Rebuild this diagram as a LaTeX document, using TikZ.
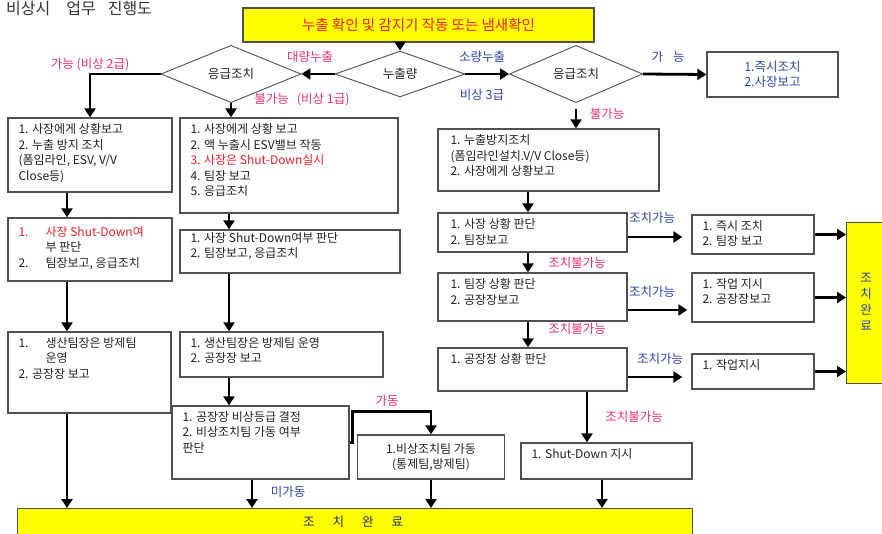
\documentclass[tikz,border=0pt]{standalone}
\usepackage{fontspec}
\setmainfont{Noto Sans CJK KR}
\usetikzlibrary{arrows.meta,shapes.geometric}
\definecolor{kyellow}{HTML}{FFFF00}
\definecolor{kred}{HTML}{E8202A}
\definecolor{kpink}{HTML}{E8336E}
\definecolor{kblue}{HTML}{2B47A6}
\definecolor{kline}{HTML}{505050}
\definecolor{ktext}{HTML}{222222}
\definecolor{ktitle}{HTML}{333333}
\newcommand\fs[2]{\fontsize{#1}{#2}\selectfont}
\newcommand\kbox[7][]{%
  \node[bx,minimum width={(#5-#3)*1pt},minimum height={(#6-#4)*1pt}] (#2) at ({(#3+#5)/2},{(#4+#6)/2}) {};
  \node[txt,anchor=north west,#1] (#2t) at ([shift={(11,6)}]#2.north west) {#7};
}
\begin{document}
\begin{tikzpicture}[x=1pt,y=-1pt,
  bx/.style={draw=kline,line width=1.3pt,fill=white,inner sep=0pt},
  txt/.style={inner sep=0pt,align=left,font=\fs{12}{15.5},text=ktext},
  arr/.style={line width=2.8pt,-{Triangle[length=9pt,width=11pt]}},
  dia/.style={diamond,draw=kline,line width=0.9pt,inner sep=0pt,font=\fs{12.5}{14},text=ktext},
  lbl/.style={inner sep=0pt,font=\fs{12.5}{14}},
  ybox/.style={draw=kline,line width=1.3pt,fill=kyellow,inner sep=0pt}]
\useasboundingbox (0,0) rectangle (882,534);
\fill[white] (0,0) rectangle (882,534);
\clip (0,0) rectangle (882,534);

\coordinate (xL) at (67,0);
\coordinate (xM) at (229,0);
\coordinate (xM4) at (252,0);
\coordinate (xR) at (528,0);
\coordinate (xR4) at (587,0);
\coordinate (xR5) at (602,0);

% title
\node[anchor=base west,inner sep=0pt,font=\fs{16}{18},text=ktitle] (title) at (6,15) {비상시\hspace{16pt}업무\hspace{12pt}진행도};

% top box
\node[ybox,minimum width=351pt,minimum height=34pt,text=kred,font=\fs{14.5}{16}] (top) at (418.5,25) {누출 확인 및 감지기 작동 또는 냄새확인};

% diamonds
\node[dia,minimum width=130pt,minimum height=44pt] (mid) at (400,74) {누출량};
\node[dia,minimum width=140pt,minimum height=48pt] (ld) at (231,74) {응급조치};
\node[dia,minimum width=133pt,minimum height=48pt] (rd) at (576,74) {응급조치};
\node[bx,minimum width=131pt,minimum height=45pt,text=kblue,align=center,font=\fs{12.5}{15.5}] (B0) at (772.5,74.5) {1.즉시조치\\2.사장보고};

% left column
\kbox{L1}{8}{118}{172}{192}{1. 사장에게 상황보고\\2. 누출 방지 조치\\(폼임라인, ESV, V/V\\Close등)}
\kbox[yshift=-3pt]{L2}{8}{218}{172}{281}{\textcolor{kred}{\makebox[27pt][l]{1.}사장 Shut-Down여}\\\hspace*{27pt}부 판단\\\makebox[27pt][l]{2.}팀장보고, 응급조치}
\kbox{L3}{8}{332}{171}{413}{\makebox[27pt][l]{1.}생산팀장은 방제팀\\\hspace*{27pt}운영\\2. 공장장 보고}

% middle column
\kbox{M1}{180}{118}{398}{213}{1. 사장에게 상황 보고\\2. 액 누출시 ESV밸브 작동\\\textcolor{kred}{3. 사장은 Shut-Down실시}\\4. 팀장 보고\\5. 응급조치}
\kbox[yshift=3pt]{M2}{180}{230}{400}{273}{1. 사장 Shut-Down여부 판단\\2. 팀장보고, 응급조치}
\kbox{M3}{180}{332}{383}{377}{1. 생산팀장은 방제팀 운영\\2. 공장장 보고}
\kbox{M4}{172}{406}{349}{479}{1. 공장장 비상등급 결정\\2. 비상조치팀 가동 여부\\판단}
\node[bx,minimum width=147pt,minimum height=44pt,align=center,font=\fs{12}{15.5},text=ktext] (M5) at (431,457) {1.비상조치팀 가동\\(통제팀,방제팀)};

% right column
\kbox[xshift=2pt]{R1}{438}{129}{659}{191}{1. 누출방지조치\\(폼임라인설치.V/V Close등)\\2. 사장에게 상황보고}
\kbox[xshift=2pt]{R2}{438}{213}{627}{252}{1. 사장 상황 판단\\2. 팀장보고}
\kbox[xshift=2pt]{R3}{438}{273}{627}{321}{1. 팀장 상황 판단\\2. 공장장보고}
\kbox[xshift=2pt]{R4}{438}{348}{627}{391}{1. 공장장 상황 판단}
\kbox{R5}{521}{443}{692}{479}{1. Shut-Down 지시}

\kbox{S1}{692}{215}{814}{254}{1. 즉시 조치\\2. 팀장 보고}
\kbox{S2}{692}{273}{814}{322}{1. 작업 지시\\2. 공장장보고}
\kbox{S3}{692}{354}{814}{389}{1. 작업지시}

% completion boxes
\node[ybox,minimum width=60pt,minimum height=161pt,anchor=north west] (fin) at (846,222) {};
\node[inner sep=0pt,align=center,font=\fs{12.5}{16},text=kblue] (finT) at (866,302) {조\\치\\완\\료};
\node[ybox,minimum width=675pt,minimum height=45pt,anchor=north west] (bot) at (17,508) {};
\node[inner sep=0pt,font=\fs{12.5}{14},text=kblue!70!black] (botT) at (353,522) {조\hspace{18pt}치\hspace{18pt}완\hspace{18pt}료};

% connectors (top)
\draw[arr] (top.south -| mid.north) -- (mid.north);
\draw[arr] (mid.west) -- (ld.east);
\draw[arr] (mid.east) -- (rd.west);
\draw[arr] (rd.east) -- (B0.west);
\draw[arr] (ld.west) -| (L1.north);
\draw[arr] (ld.south) -- (ld.south |- M1.north);
\draw[arr,shorten <=6pt] (rd.south) -- (rd.south |- R1.north);

% left column
\draw[arr] (L1.south -| xL) -- (L2.north -| xL);
\draw[arr] (L2.south -| xL) -- (L3.north -| xL);
\draw[arr] (L3.south -| xL) -- (bot.north -| xL);

% middle column
\draw[arr] (M1.south -| xM) -- (M2.north -| xM);
\draw[arr] (M2.south -| xM) -- (M3.north -| xM);
\draw[arr] (M3.south -| xM) -- (M4.north -| xM);
\draw[arr] (M4.south -| xM4) -- (bot.north -| xM4);
\draw[arr] (M4.east) -- ++(3,0) |- ([yshift=23pt]M5.north) -- (M5.north);
\draw[arr] (M5.south) -- (M5.south |- bot.north);

% right column
\draw[arr] (R1.south -| xR) -- (R2.north -| xR);
\draw[arr] (R2.south -| xR) -- (R3.north -| xR);
\draw[arr] (R3.south -| xR) -- (R4.north -| xR);
\draw[arr] (R4.south -| xR4) -- (R5.north -| xR4);
\draw[arr] (R5.south -| xR5) -- (bot.north -| xR5);

\coordinate (a1) at ([yshift=-4.5pt]R2.east);
\coordinate (a2) at ([yshift=-13pt]R3.east);
\coordinate (a3) at ([yshift=-7.5pt]R4.east);
\draw[arr,shorten >=9pt] (a1) -- (a1 -| S1.west);
\draw[arr,shorten >=4pt] (a2) -- (a2 -| S2.west);
\draw[arr,shorten >=9pt] (a3) -- (a3 -| S3.west);
\draw[arr] (S1.east) -- (S1.east -| fin.west);
\draw[arr] (S2.east) -- (S2.east -| fin.west);
\draw[arr] (S3.east) -- (S3.east -| fin.west);

% labels
\node[lbl,text=kpink] (l1) at (310,57) {대량누출};
\node[lbl,text=kblue] (l2) at (482,57) {소량누출};
\node[lbl,text=kblue] (l3) at (482,95) {비상 3급};
\node[lbl,text=kblue] (l4) at (668,57) {가\hspace{10pt}능};
\node[lbl,text=kpink] (l5) at (90,65) {가능 (비상 2급)};
\node[lbl,text=kpink] (l6) at (302,100) {불가능\hspace{8pt}(비상 1급)};
\node[lbl,text=kpink] (l7) at (607,114) {불가능};
\node[lbl,text=kpink] (l8) at (577,263) {조치불가능};
\node[lbl,text=kpink] (l9) at (577,329) {조치불가능};
\node[lbl,text=kpink] (l10) at (634,417) {조치불가능};
\node[lbl,text=kblue] (l11) at (652,218) {조치가능};
\node[lbl,text=kblue] (l12) at (652,292) {조치가능};
\node[lbl,text=kblue] (l13) at (660,359) {조치가능};
\node[lbl,text=kpink] (l14) at (387,401) {가동};
\node[lbl,text=kblue] (l15) at (288,492) {미가동};
\end{tikzpicture}
\end{document}
